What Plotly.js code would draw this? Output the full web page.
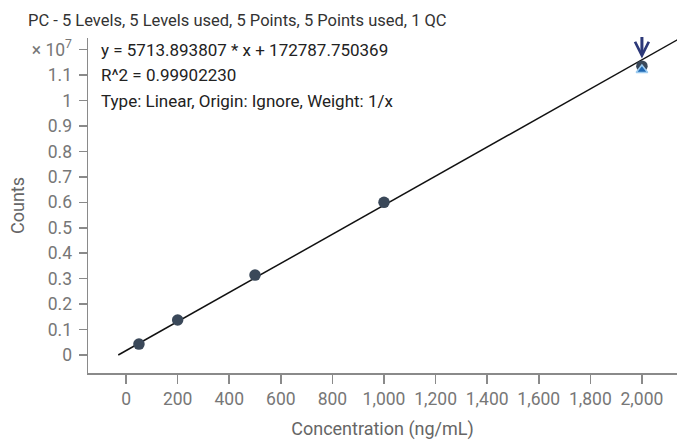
<!DOCTYPE html>
<html>
<head>
<meta charset="utf-8">
<script src="https://cdn.plot.ly/plotly-3.0.1.min.js"></script>
<style>html,body{margin:0;padding:0;background:#fff;}#chart{width:677px;height:440px;}</style>
</head>
<body>
<div id="chart"></div>
<script>
// Calibration standards
const concentration = [50, 200, 500, 1000, 2000];
const counts = [430000, 1375000, 3140000, 6000000, 11350000];
// QC sample
const qcConcentration = [2000];
const qcCounts = [11200000];
// Regression
const slope = 5713.893807;
const intercept = 172787.750369;
const fitRange = [-30.24, 2200];
// Axis ticks
const xTicks = [0, 200, 400, 600, 800, 1000, 1200, 1400, 1600, 1800, 2000];
const yTicks = [0, 1e6, 2e6, 3e6, 4e6, 5e6, 6e6, 7e6, 8e6, 9e6, 1e7, 1.1e7, 1.2e7];
const yTickText = ['0','0.1','0.2','0.3','0.4','0.5','0.6','0.7','0.8','0.9','1','1.1','× 10<sup>7</sup>'];

const fitY = fitRange.map(x => slope * x + intercept);
const FONT = 'Roboto, "Noto Sans", sans-serif';

const traces = [
  {x: fitRange, y: fitY, mode: 'lines', line: {color: '#111', width: 1.5}, hoverinfo: 'skip'},
  {x: concentration, y: counts, mode: 'markers', marker: {symbol: 'circle', size: 11.5, color: '#3a4859'}},
  {x: qcConcentration, y: qcCounts, mode: 'markers', marker: {symbol: 'triangle-up', size: 10, color: '#1f68b3', line: {color: '#9dcbef', width: 1.5}}}
];

const layout = {
  width: 677, height: 440,
  margin: {l: 88, r: 0, t: 38, b: 67},
  paper_bgcolor: '#fff', plot_bgcolor: '#fff',
  showlegend: false,
  font: {family: FONT, size: 16, color: '#333'},
  title: {text: 'PC - 5 Levels, 5 Levels used, 5 Points, 5 Points used, 1 QC', font: {family: FONT, size: 16.5, color: '#333'},
          x: 28/677, xanchor: 'left', xref: 'container', y: 1 - 20/440, yanchor: 'middle', yref: 'container'},
  xaxis: {
    range: [-147.6, 2136], tickvals: xTicks, tickformat: ',', showgrid: false, zeroline: false,
    showline: true, linecolor: '#8a8a8a', linewidth: 1.5, ticks: 'outside', ticklen: 9, tickcolor: '#8a8a8a', tickwidth: 1.5,
    tickfont: {family: FONT, size: 17.5, color: '#777'},
    title: {text: 'Concentration (ng/mL)', font: {family: FONT, size: 18, color: '#666'}, standoff: 16}
  },
  yaxis: {
    range: [-707000, 12456000], tickvals: yTicks, ticktext: yTickText, showgrid: false, zeroline: false,
    showline: true, linecolor: '#8a8a8a', linewidth: 1.5, ticks: 'outside', ticklen: 8, tickcolor: '#8a8a8a', tickwidth: 1.5,
    ticklabelstandoff: 3,
    tickfont: {family: FONT, size: 17.5, color: '#777'},
    title: {text: 'Counts', font: {family: FONT, size: 18, color: '#666'}, standoff: 2}
  },
  annotations: [
    {xref: 'paper', yref: 'y', x: 0.018, y: 1.2e7, xanchor: 'left', yanchor: 'middle', showarrow: false,
     text: 'y = 5713.893807 * x + 172787.750369', font: {family: FONT, size: 17, color: '#222'}},
    {xref: 'paper', yref: 'y', x: 0.018, y: 1.1e7, xanchor: 'left', yanchor: 'middle', showarrow: false,
     text: 'R^2 = 0.99902230', font: {family: FONT, size: 17, color: '#222'}},
    {xref: 'paper', yref: 'y', x: 0.018, y: 1.0e7, xanchor: 'left', yanchor: 'middle', showarrow: false,
     text: 'Type: Linear, Origin: Ignore, Weight: 1/x', font: {family: FONT, size: 17, color: '#222'}},
    {xref: 'x', yref: 'y', x: qcConcentration[0], y: 11650000, ax: 0, ay: -23, text: '', showarrow: true,
     arrowhead: 5, arrowsize: 0.9, arrowwidth: 3, arrowcolor: '#2c3878'}
  ]
};

Plotly.newPlot('chart', traces, layout, {displayModeBar: false, staticPlot: true});
</script>
</body>
</html>
